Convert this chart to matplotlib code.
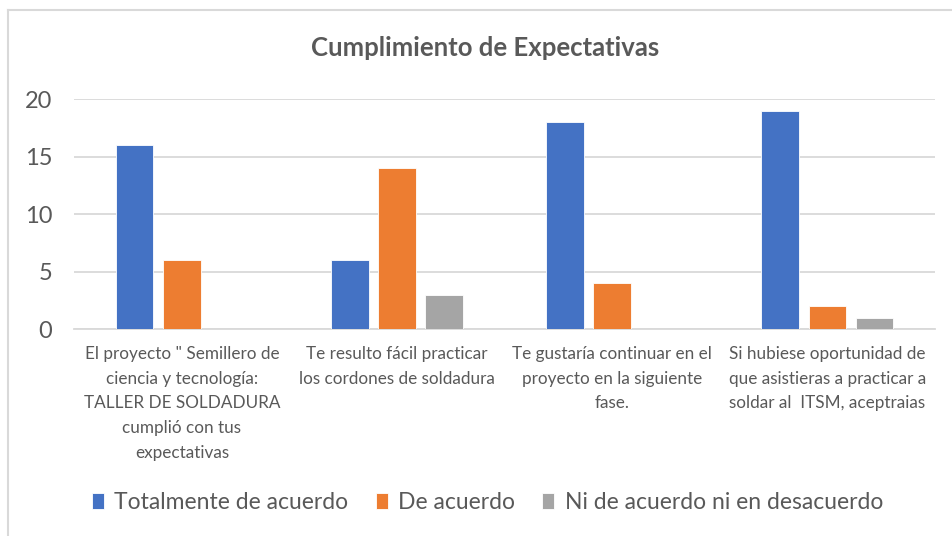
import numpy as np
import matplotlib.pyplot as plt

categories = [
    'El proyecto " Semillero de\nciencia y tecnología:\nTALLER DE SOLDADURA\ncumplió con tus\nexpectativas',
    'Te resulto fácil practicar\nlos cordones de soldadura',
    'Te gustaría continuar en el\nproyecto en la siguiente\nfase.',
    'Si hubiese oportunidad de\nque asistieras a practicar a\nsoldar al  ITSM, aceptraias',
]
totalmente = [16, 6, 18, 19]
de_acuerdo = [6, 14, 4, 2]
ni_ni = [0, 3, 0, 1]
series_names = ['Totalmente de acuerdo', 'De acuerdo', 'Ni de acuerdo ni en desacuerdo']
colors = ['#4472C4', '#ED7D31', '#A5A5A5']
text_col = '#595959'

plt.rcParams['font.family'] = ['Lato', 'DejaVu Sans']

fig = plt.figure(figsize=(9.52, 5.36), dpi=100)
ax = fig.add_axes([0.078, 0.386, 0.904, 0.429])

x = np.arange(len(categories))
w = 0.174
step = 0.219
for i, (vals, name) in enumerate(zip([totalmente, de_acuerdo, ni_ni], series_names)):
    ax.bar(x + (i - 1) * step, vals, w, color=colors[i], label=name,
           edgecolor='white', linewidth=0.6, zorder=3)

ax.set_xlim(-0.5, 3.5)
ax.set_ylim(0, 20)
ax.set_yticks([0, 5, 10, 15, 20])
ax.grid(axis='y', color='#D9D9D9', linewidth=1.3, zorder=0)
for s in ['top', 'right', 'left']:
    ax.spines[s].set_visible(False)
ax.spines['bottom'].set_color('#D9D9D9')
ax.spines['bottom'].set_linewidth(1.3)
ax.tick_params(axis='y', length=0, pad=16, labelsize=17, labelcolor=text_col)
ax.tick_params(axis='x', length=0, pad=12, labelsize=12.3, labelcolor=text_col)
ax.set_xticks(x)
ax.set_xticklabels(categories, linespacing=1.68)

fig.text(0.51, 0.91, 'Cumplimiento de Expectativas', ha='center', va='center',
         fontsize=18.5, fontweight='bold', color=text_col)

handles, labels = ax.get_legend_handles_labels()
fig.legend(handles, labels, loc='center', bbox_to_anchor=(0.512, 0.063), ncol=3,
           frameon=False, fontsize=16.5, labelcolor=text_col, handlelength=0.52,
           handleheight=0.7, handletextpad=0.45, columnspacing=1.2)

# chart border (top and left visible in the crop)
fig.add_artist(plt.Line2D([0.008, 1.0], [0.981, 0.981], color='#D9D9D9', lw=1.5))
fig.add_artist(plt.Line2D([0.008, 0.008], [0.0, 0.981], color='#D9D9D9', lw=1.5))

fig.savefig('out.png', dpi=100)
